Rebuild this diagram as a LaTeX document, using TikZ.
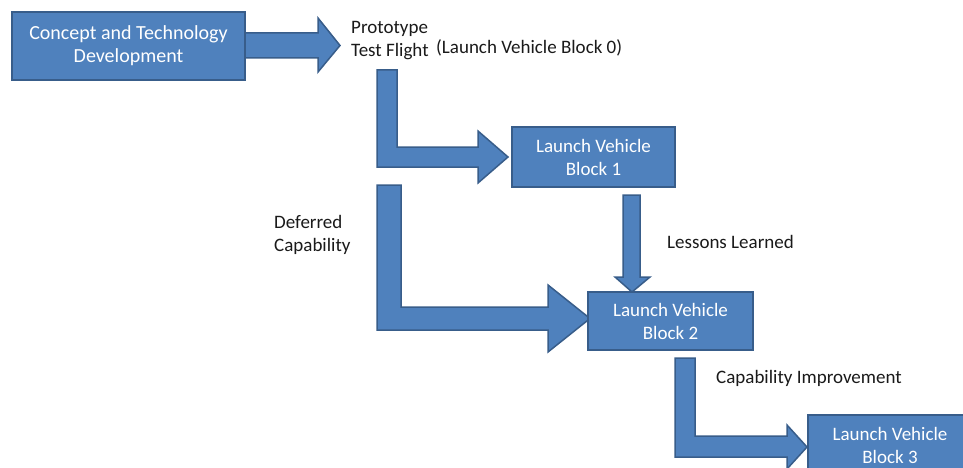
\documentclass[tikz,border=0pt]{standalone}
\usepackage{fontspec}
\setmainfont{Carlito}
\definecolor{boxblue}{HTML}{4F81BD}
\definecolor{boxedge}{HTML}{385D8A}
\definecolor{lbltxt}{HTML}{1A1A1A}
\begin{document}
\begin{tikzpicture}[x=1pt,y=-1pt,
  blk/.style={draw=boxedge, line width=1.5pt, fill=boxblue, text=white, align=center,
    font=\fontsize{19}{23}\selectfont, inner sep=0pt},
  barrow/.style={draw=boxedge, line width=1.5pt, fill=boxblue, line join=miter},
  lbl/.style={text=lbltxt, align=left, font=\fontsize{19}{23}\selectfont, inner sep=0pt, anchor=west}]
\path[use as bounding box, clip] (0,0) rectangle (963,468);
\fill[white] (0,0) rectangle (963,468);

% block arrows (drawn first, boxes cover their joins)
\draw[barrow] (244,33) -- (318,33) -- (318,18) -- (340,45.5) -- (318,72) -- (318,58) -- (244,58) -- cycle;
\draw[barrow] (377,70) -- (397,70) -- (397,147) -- (478,147) -- (478,131) -- (508,157) -- (478,183) -- (478,167) -- (377,167) -- cycle;
\draw[barrow] (377,185) -- (401,185) -- (401,307) -- (548,307) -- (548,285) -- (590,318.5) -- (548,352) -- (548,330) -- (377,330) -- cycle;
\draw[barrow] (623,195) -- (640,195) -- (640,277) -- (650,277) -- (632,292) -- (615,277) -- (623,277) -- cycle;
\draw[barrow] (675,358) -- (695,358) -- (695,436) -- (787,436) -- (787,425) -- (807,447) -- (787,469) -- (787,457) -- (675,457) -- cycle;

% boxes
\node[blk, font=\fontsize{20}{23}\selectfont, minimum width=233pt, minimum height=68pt] (b1) at (128.5,46) {Concept and Technology\\Development};
\node[blk, minimum width=163pt, minimum height=60pt] (b2) at (593.5,157) {Launch Vehicle\\Block 1};
\node[blk, minimum width=165pt, minimum height=58pt] (b3) at (670.5,321) {Launch Vehicle\\Block 2};
\node[blk, minimum width=164pt, minimum height=60pt] (b4) at (890,445) {Launch Vehicle\\Block 3};

% labels
\node[lbl] (proto) at (351,41) {Prototype\\Test Flight};
\node[lbl] (blk0) at (436,48) {(Launch Vehicle Block 0)};
\node[lbl] (defer) at (274,235) {Deferred\\Capability};
\node[lbl] (lessons) at (667,242) {Lessons Learned};
\node[lbl] (capimp) at (716,378) {Capability Improvement};
\end{tikzpicture}
\end{document}
